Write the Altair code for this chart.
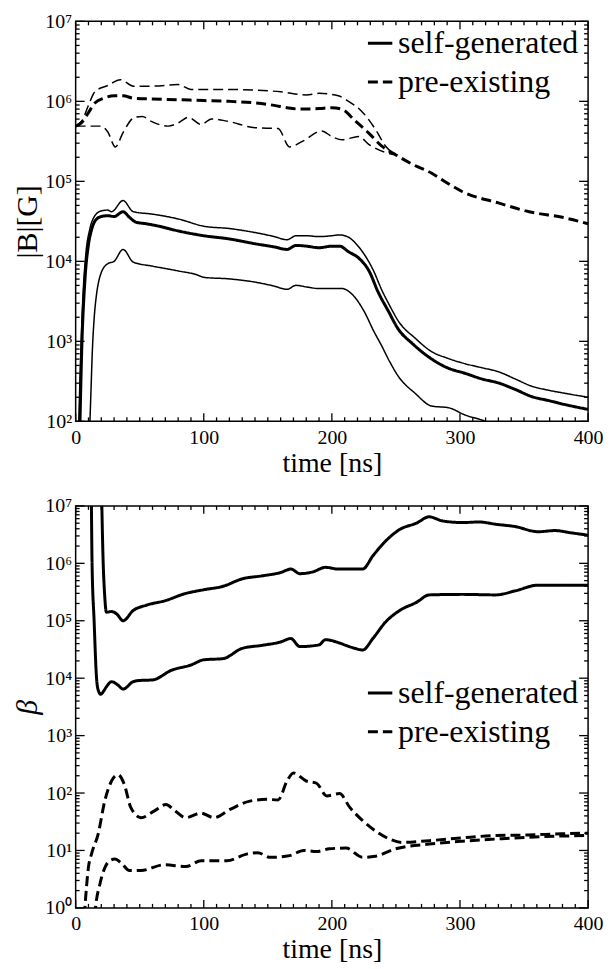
import altair as alt
import pandas as pd

# ---------------- top panel: |B| [G] ----------------
T_SG_B_MID = [3, 4.7, 7.3, 9.9, 12.5, 16.4, 20, 25, 30, 37, 42, 47, 55, 65, 80, 100, 120, 140, 155, 165,
              172, 180, 190, 200, 206, 213, 221, 229, 236, 244, 252, 263, 276, 290, 304, 317, 330, 343, 356, 369,
              382, 400]
B_SG_MID = [50, 741, 6030, 1.58e4, 2.51e4, 3.39e4, 3.63e4, 3.72e4, 3.63e4, 4.17e4, 3.55e4, 3.09e4, 2.95e4, 2.75e4,
            2.4e4, 2.09e4, 1.905e4, 1.66e4, 1.514e4, 1.41e4, 1.58e4, 1.549e4, 1.479e4, 1.549e4, 1.549e4, 1.318e4,
            1.096e4, 7590, 4170, 2400, 1410, 933, 631, 468, 398, 339, 302, 251, 204, 182, 162, 141]

T_SG_B_HI = [2, 3.5, 5.5, 8, 11, 15, 20, 25, 28, 37, 45, 60, 80, 100, 120, 140, 155, 165, 172, 180,
             190, 200, 206, 213, 220, 226, 232, 239, 245, 252, 265, 278, 290, 304, 317, 330, 343, 356, 369, 382, 400]
B_SG_HI = [50, 398, 3160, 1.26e4, 2.51e4, 3.72e4, 4.27e4, 4.37e4, 4.17e4, 5.75e4, 4.17e4, 3.89e4, 3.39e4, 2.75e4,
           2.57e4, 2.29e4, 2.04e4, 1.862e4, 2.09e4, 2.09e4, 2.04e4, 2.09e4, 2.14e4, 2.0e4, 1.58e4, 1.175e4, 7940,
           4370, 2820, 1780, 1096, 741, 617, 525, 468, 417, 339, 275, 245, 224, 200]

T_SG_B_LO = [10.5, 12, 13, 14.5, 16, 18, 20, 25, 30, 37, 45, 60, 80, 95, 100, 120, 140, 155, 165, 172,
             180, 190, 200, 208, 215, 226, 232, 239, 245, 252, 265, 278, 291, 304, 320, 330]
B_SG_LO = [50, 251, 741, 2000, 3550, 5620, 7240, 9330, 1.0e4, 1.41e4, 9770, 8710, 7590, 6760, 6310, 6030, 5500,
           4900, 4470, 5010, 4790, 4570, 4570, 4570, 3980, 2240, 1410, 871, 562, 363, 224, 155, 148, 120, 100, 85]

T_PRE_B_MID = [0, 5, 10, 15, 22, 30, 37, 45, 60, 80, 100, 120, 140, 155, 165, 175, 190, 200, 208, 218,
               229, 239, 250, 262, 278, 290, 302, 330, 354, 380, 400]
B_PRE_MID = [4.9e5, 5.5e5, 7.24e5, 9.55e5, 1.096e6, 1.175e6, 1.175e6, 1.096e6, 1.072e6, 1.047e6, 1.023e6, 1.0e6,
             9.55e5, 8.91e5, 8.32e5, 8.0e5, 8.13e5, 8.32e5, 7.94e5, 5.75e5, 3.98e5, 2.75e5, 2.14e5, 1.66e5,
             1.26e5, 9.55e4, 7.41e4, 5.37e4, 4.17e4, 3.55e4, 2.95e4]

T_PRE_B_HI = [0, 5, 10, 15, 25, 35, 45, 60, 80, 90, 100, 120, 140, 160, 180, 190, 205, 213, 223, 234, 242, 250]
B_PRE_HI = [4.9e5, 5.75e5, 8.91e5, 1.318e6, 1.58e6, 1.862e6, 1.549e6, 1.549e6, 1.622e6, 1.41e6, 1.41e6, 1.41e6,
            1.38e6, 1.318e6, 1.202e6, 1.26e6, 1.175e6, 1.0e6, 7.59e5, 4.47e5, 2.75e5, 2.14e5]

T_PRE_B_LO = [0, 10, 20, 25, 31, 37, 46, 52, 59, 72, 80, 88, 98, 106, 119, 140, 158, 167, 177, 192,
              200, 208, 221, 229, 242, 250]
B_PRE_LO = [4.9e5, 4.9e5, 4.9e5, 4.17e5, 2.69e5, 4.07e5, 6.31e5, 6.46e5, 5.62e5, 4.9e5, 5.37e5, 6.31e5, 5.13e5,
            6.03e5, 5.62e5, 4.68e5, 4.57e5, 2.69e5, 3.16e5, 4.27e5, 3.63e5, 3.31e5, 3.63e5, 2.88e5, 2.29e5, 2.14e5]

# ---------------- bottom panel: beta ----------------
T_SG_BETA_HI = [20, 21.5, 22.5, 24, 28, 32, 37, 45, 55, 70, 85, 100, 115, 130, 145, 160, 168, 175, 185, 195,
                205, 211, 224, 232, 242, 253, 266, 276, 286, 302, 315, 328, 343, 361, 374, 387, 400]
BETA_SG_HI = [3.16e7, 1.0e6, 3.16e5, 1.41e5, 1.445e5, 1.318e5, 1.0e5, 1.514e5, 1.862e5, 2.24e5, 2.95e5, 3.47e5,
              3.98e5, 5.37e5, 6.03e5, 6.92e5, 7.94e5, 6.61e5, 7.08e5, 8.51e5, 7.94e5, 7.94e5, 7.94e5, 1.349e6,
              2.45e6, 3.89e6, 5.01e6, 6.46e6, 5.5e6, 5.13e6, 5.25e6, 4.79e6, 4.37e6, 3.55e6, 3.72e6, 3.39e6, 3.09e6]

T_SG_BETA_LO = [12.2, 12.8, 14.4, 16.3, 17.5, 19.6, 22, 24, 28, 33, 37, 45, 50, 60, 75, 90, 100, 115, 130, 145,
                160, 168, 175, 190, 195, 205, 211, 218, 224, 232, 242, 253, 266, 276, 302, 328, 343, 361, 380, 400]
BETA_SG_LO = [2.0e7, 1.0e6, 1.0e5, 1.0e4, 6310, 5250, 6030, 7080, 8710, 7590, 6460, 8710, 9120, 9330, 1.38e4,
              1.698e4, 2.09e4, 2.19e4, 3.31e4, 3.72e4, 4.27e4, 4.9e4, 3.55e4, 3.8e4, 4.68e4, 4.17e4, 3.72e4,
              3.31e4, 3.09e4, 4.9e4, 9.55e4, 1.514e5, 2.09e5, 2.82e5, 2.88e5, 2.82e5, 3.31e5, 4.17e5, 4.17e5, 4.17e5]

T_PRE_BETA_HI = [6, 7.2, 10, 12.4, 17.6, 22.7, 28, 33, 38, 43, 51, 61.5, 70.5, 77, 86, 97.7, 108, 121, 136, 149,
                 158, 165, 170, 180, 188, 196, 206, 214, 224, 234, 245, 255, 276, 302, 328, 353, 379, 400]
BETA_PRE_HI = [0.4, 1.0, 5.13, 8.71, 19.5, 72.4, 162, 209, 141, 56.2, 37.2, 49, 63.1, 50.1, 37.2, 44.7, 37.2,
               52.5, 72.4, 77.6, 75.9, 162, 224, 162, 148, 89.1, 97.7, 56.2, 33.1, 21.9, 15.8, 13.8, 14.8, 16.6,
               18.2, 18.6, 19.5, 20.0]

T_PRE_BETA_LO = [14, 15.5, 19, 23, 26.6, 30.5, 35.7, 42, 51, 69, 86, 98, 118, 134, 142, 152, 167, 178, 188, 198,
                 211, 224, 234, 250, 276, 302, 328, 353, 379, 400]
BETA_PRE_LO = [0.4, 1.0, 2.63, 5.13, 6.61, 7.08, 6.03, 4.47, 4.47, 5.62, 5.25, 6.61, 6.61, 8.71, 9.12, 7.59, 8.13,
               10.0, 9.55, 10.7, 11.0, 7.59, 7.94, 10.7, 12.9, 14.5, 15.8, 17.0, 17.8, 18.2]

KINDS = ["self-generated", "pre-existing"]
X_LABELS = [0, 100, 200, 300, 400]
X_MINOR = [t for t in range(0, 401, 10) if t % 100 != 0]
Y_MAJOR_B = [1e2, 1e3, 1e4, 1e5, 1e6, 1e7]
Y_MINOR_B = [m * 10.0 ** e for e in range(2, 7) for m in range(2, 10)]
Y_MAJOR_BETA = [1e0, 1e1, 1e2, 1e3, 1e4, 1e5, 1e6, 1e7]
Y_MINOR_BETA = [m * 10.0 ** e for e in range(0, 7) for m in range(2, 10)]
SUPS = ["⁰", "¹", "²", "³", "⁴", "⁵", "⁶", "⁷"]


def frame(t, v, name, kind, weight):
    return pd.DataFrame({"t": t, "v": v, "series": name, "kind": kind, "weight": weight})


top_df = pd.concat([
    frame(T_PRE_B_HI, B_PRE_HI, "pre_hi", KINDS[1], "thin"),
    frame(T_PRE_B_LO, B_PRE_LO, "pre_lo", KINDS[1], "thin"),
    frame(T_PRE_B_MID, B_PRE_MID, "pre_mid", KINDS[1], "thick"),
    frame(T_SG_B_HI, B_SG_HI, "sg_hi", KINDS[0], "thin"),
    frame(T_SG_B_LO, B_SG_LO, "sg_lo", KINDS[0], "thin"),
    frame(T_SG_B_MID, B_SG_MID, "sg_mid", KINDS[0], "thick"),
])
bot_df = pd.concat([
    frame(T_SG_BETA_HI, BETA_SG_HI, "sg_hi", KINDS[0], "thick"),
    frame(T_SG_BETA_LO, BETA_SG_LO, "sg_lo", KINDS[0], "thick"),
    frame(T_PRE_BETA_HI, BETA_PRE_HI, "pre_hi", KINDS[1], "thick"),
    frame(T_PRE_BETA_LO, BETA_PRE_LO, "pre_lo", KINDS[1], "thick"),
])

FONT = "Liberation Serif"
W = 515
H_TOP = 402
H_BOT = 404
TICK_COLOR = "black"

LOG10 = "(log(datum.value)/LN10)"
SUP_ARR = "[" + ",".join(f"'{s}'" for s in SUPS) + "]"
Y_LABEL_EXPR = f"'10' + {SUP_ARR}[round({LOG10})]"


def x_enc():
    return alt.X(
        "t:Q", scale=alt.Scale(domain=[0, 400], nice=False, zero=False),
        axis=alt.Axis(
            values=X_LABELS, labelOverlap=False, labelFlush=False,
            ticks=False, domain=False, grid=False,
            labelFont=FONT, labelFontSize=20, labelColor="black", labelPadding=6,
            title="time [ns]", titleFont=FONT, titleFontSize=28, titleFontWeight="normal",
            titleColor="black", titlePadding=2,
        ),
    )


def y_enc(domain, majors, title, italic):
    return alt.Y(
        "v:Q", scale=alt.Scale(type="log", domain=domain, nice=False),
        axis=alt.Axis(
            values=majors, labelExpr=Y_LABEL_EXPR, labelOverlap=False, labelFlush=False,
            ticks=False, domain=False, grid=False,
            labelFont=FONT, labelFontSize=20, labelColor="black", labelPadding=4,
            title=title, titleFont=FONT, titleFontSize=30, titleFontWeight="normal",
            titleFontStyle="italic" if italic else "normal",
            titleColor="black", titlePadding=2,
        ),
    )


def rule(df):
    return alt.Chart(df).mark_rule(color=TICK_COLOR, strokeWidth=1.3)


def panel(df, h, domain, majors, minors, ytitle, italic, legend_y):
    X = x_enc()
    Y = y_enc(domain, majors, ytitle, italic)
    lines = alt.Chart(df).mark_line(interpolate="monotone", clip=True, color="black").encode(
        x=X, y=Y,
        detail="series:N",
        strokeDash=alt.StrokeDash(
            "kind:N",
            scale=alt.Scale(domain=KINDS, range=[[1, 0], [10, 5]]),
            legend=alt.Legend(
                title=None, orient="none", legendX=290, legendY=legend_y,
                symbolType="stroke", symbolStrokeWidth=3, symbolStrokeColor="black",
                symbolSize=600, labelFont=FONT, labelFontSize=32, labelColor="black",
                labelLimit=0, labelOffset=2, rowPadding=7, padding=0,
            ),
        ),
        strokeWidth=alt.StrokeWidth("weight:N", scale=alt.Scale(domain=["thick", "thin"], range=[3, 1.5]),
                                    legend=None),
    )
    layers = [lines]
    xmaj = pd.DataFrame({"t": X_LABELS})
    xmin = pd.DataFrame({"t": X_MINOR})
    ymaj = pd.DataFrame({"v": majors})
    ymin = pd.DataFrame({"v": minors})
    for d, L in [(xmaj, 8), (xmin, 4)]:
        layers.append(rule(d).encode(x=X, y=alt.value(h), y2=alt.value(h - L)))
        layers.append(rule(d).encode(x=X, y=alt.value(0), y2=alt.value(L)))
    for d, L in [(ymaj, 9), (ymin, 4)]:
        layers.append(rule(d).encode(y=Y, x=alt.value(0), x2=alt.value(L)))
        layers.append(rule(d).encode(y=Y, x=alt.value(W), x2=alt.value(W - L)))
    return alt.layer(*layers).properties(width=W, height=h)


top = panel(top_df, H_TOP, [1e2, 1e7], Y_MAJOR_B, Y_MINOR_B, "|B|[G]", False, 6)
bot = panel(bot_df, H_BOT, [1, 1e7], Y_MAJOR_BETA, Y_MINOR_BETA, "β", True, 172)

chart = alt.vconcat(top, bot, spacing=17).resolve_scale(
    strokeDash="independent", strokeWidth="independent"
).resolve_legend(strokeDash="independent").properties(
    padding={"left": 4, "top": 0, "right": 0, "bottom": 0}
).configure_view(stroke="black", strokeWidth=1.5)

chart.save("out.html", embed_options={"renderer": "svg", "actions": False})
